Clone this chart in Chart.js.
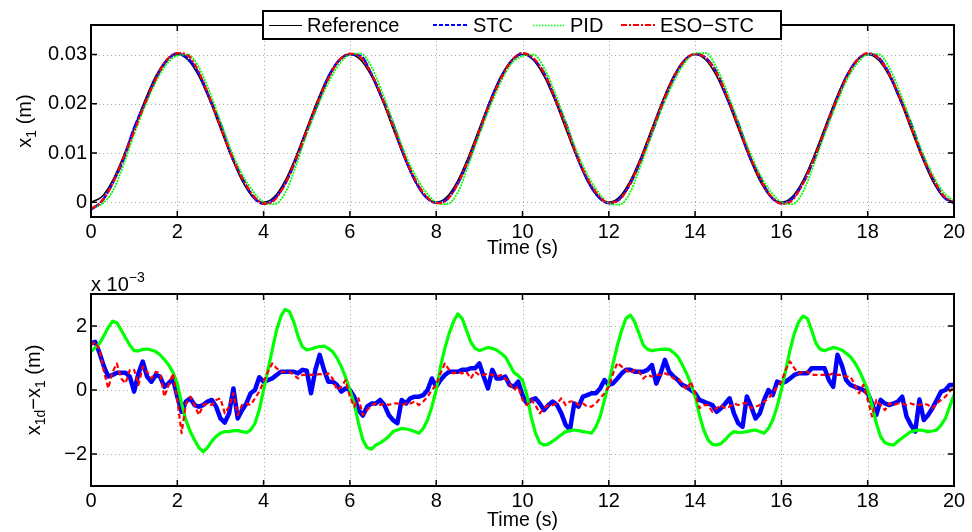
<!DOCTYPE html>
<html>
<head>
<meta charset="utf-8">
<title>x1 tracking</title>
<script src="https://cdn.jsdelivr.net/npm/chart.js@4.4.1/dist/chart.umd.min.js"></script>
<style>
  html, body { margin: 0; padding: 0; background: #fff; }
  #wrap { position: relative; width: 972px; height: 532px; }
  canvas { position: absolute; left: 0; }
</style>
</head>
<body>
<div id="wrap">
  <canvas id="posChart" width="972" height="262" style="top:0"></canvas>
  <canvas id="errChart" width="972" height="270" style="top:262px"></canvas>
</div>
<script>
// ---- data -------------------------------------------------------------

const xTicks = [0, 2, 4, 6, 8, 10, 12, 14, 16, 18, 20];
const xTickLabels = ['0', '2', '4', '6', '8', '10', '12', '14', '16', '18', '20'];
const posTicks = [0, 0.01, 0.02, 0.03];
const posTickLabels = ['0', '0.01', '0.02', '0.03'];
const errTicks = [-2, 0, 2];
const errTickLabels = ['\u22122', '0', '2'];

// position plot, sampled every 0.25 s (m)
const tPos = [
  0, 0.25, 0.5, 0.75, 1, 1.25, 1.5, 1.75,
  2, 2.25, 2.5, 2.75, 3, 3.25, 3.5, 3.75,
  4, 4.25, 4.5, 4.75, 5, 5.25, 5.5, 5.75,
  6, 6.25, 6.5, 6.75, 7, 7.25, 7.5, 7.75,
  8, 8.25, 8.5, 8.75, 9, 9.25, 9.5, 9.75,
  10, 10.25, 10.5, 10.75, 11, 11.25, 11.5, 11.75,
  12, 12.25, 12.5, 12.75, 13, 13.25, 13.5, 13.75,
  14, 14.25, 14.5, 14.75, 15, 15.25, 15.5, 15.75,
  16, 16.25, 16.5, 16.75, 17, 17.25, 17.5, 17.75,
  18, 18.25, 18.5, 18.75, 19, 19.25, 19.5, 19.75,
  20
];
const posRef = [
  0.0000, 0.0011, 0.0044, 0.0093, 0.0150, 0.0207, 0.0256, 0.0289,
  0.0300, 0.0289, 0.0256, 0.0207, 0.0150, 0.0093, 0.0044, 0.0011,
  0.0000, 0.0011, 0.0044, 0.0093, 0.0150, 0.0207, 0.0256, 0.0289,
  0.0300, 0.0289, 0.0256, 0.0207, 0.0150, 0.0093, 0.0044, 0.0011,
  0.0000, 0.0011, 0.0044, 0.0093, 0.0150, 0.0207, 0.0256, 0.0289,
  0.0300, 0.0289, 0.0256, 0.0207, 0.0150, 0.0093, 0.0044, 0.0011,
  0.0000, 0.0011, 0.0044, 0.0093, 0.0150, 0.0207, 0.0256, 0.0289,
  0.0300, 0.0289, 0.0256, 0.0207, 0.0150, 0.0093, 0.0044, 0.0011,
  0.0000, 0.0011, 0.0044, 0.0093, 0.0150, 0.0207, 0.0256, 0.0289,
  0.0300, 0.0289, 0.0256, 0.0207, 0.0150, 0.0093, 0.0044, 0.0011,
  0.0000
];
const posStc = [
  -0.0015, 0.0002, 0.0039, 0.0087, 0.0151, 0.0201, 0.0251, 0.0287,
  0.0302, 0.0292, 0.0261, 0.0211, 0.0159, 0.0096, 0.0050, 0.0012,
  -0.0003, 0.0007, 0.0038, 0.0087, 0.0144, 0.0199, 0.0254, 0.0288,
  0.0300, 0.0297, 0.0260, 0.0211, 0.0159, 0.0096, 0.0046, 0.0012,
  -0.0001, 0.0006, 0.0038, 0.0086, 0.0142, 0.0204, 0.0253, 0.0287,
  0.0302, 0.0291, 0.0262, 0.0212, 0.0161, 0.0097, 0.0046, 0.0012,
  -0.0002, 0.0007, 0.0038, 0.0087, 0.0142, 0.0200, 0.0252, 0.0287,
  0.0301, 0.0293, 0.0263, 0.0211, 0.0160, 0.0096, 0.0051, 0.0012,
  -0.0002, 0.0007, 0.0039, 0.0086, 0.0143, 0.0201, 0.0253, 0.0288,
  0.0301, 0.0294, 0.0261, 0.0210, 0.0161, 0.0099, 0.0050, 0.0012,
  -0.0002
];
const posPid = [
  -0.0012, -0.0004, 0.0022, 0.0075, 0.0138, 0.0195, 0.0244, 0.0280,
  0.0298, 0.0300, 0.0274, 0.0224, 0.0164, 0.0105, 0.0057, 0.0023,
  0.0000, -0.0004, 0.0019, 0.0074, 0.0138, 0.0194, 0.0243, 0.0280,
  0.0300, 0.0302, 0.0275, 0.0223, 0.0163, 0.0105, 0.0057, 0.0022,
  0.0000, -0.0004, 0.0020, 0.0076, 0.0138, 0.0194, 0.0245, 0.0282,
  0.0297, 0.0300, 0.0273, 0.0223, 0.0163, 0.0105, 0.0057, 0.0021,
  -0.0002, -0.0005, 0.0021, 0.0077, 0.0138, 0.0195, 0.0244, 0.0282,
  0.0302, 0.0303, 0.0273, 0.0222, 0.0163, 0.0106, 0.0057, 0.0022,
  0.0000, -0.0004, 0.0021, 0.0076, 0.0138, 0.0194, 0.0245, 0.0281,
  0.0300, 0.0301, 0.0273, 0.0223, 0.0163, 0.0105, 0.0057, 0.0021,
  0.0002
];
const posEso = [
  -0.0014, 0.0002, 0.0038, 0.0090, 0.0144, 0.0201, 0.0250, 0.0289,
  0.0303, 0.0298, 0.0264, 0.0212, 0.0153, 0.0096, 0.0049, 0.0015,
  -0.0003, 0.0004, 0.0038, 0.0088, 0.0145, 0.0203, 0.0251, 0.0288,
  0.0302, 0.0294, 0.0261, 0.0212, 0.0154, 0.0097, 0.0048, 0.0014,
  -0.0002, 0.0005, 0.0038, 0.0088, 0.0145, 0.0202, 0.0251, 0.0288,
  0.0303, 0.0293, 0.0262, 0.0212, 0.0155, 0.0097, 0.0049, 0.0015,
  -0.0001, 0.0005, 0.0039, 0.0088, 0.0146, 0.0202, 0.0253, 0.0288,
  0.0301, 0.0293, 0.0262, 0.0213, 0.0155, 0.0098, 0.0049, 0.0013,
  -0.0003, 0.0004, 0.0038, 0.0088, 0.0145, 0.0202, 0.0252, 0.0288,
  0.0303, 0.0293, 0.0260, 0.0212, 0.0154, 0.0097, 0.0050, 0.0014,
  -0.0001
];

// tracking error, sampled every 0.1 s (x 10^-3 m), one row per second
const tErr = [
  0.0, 0.1, 0.2, 0.3, 0.4, 0.5, 0.6, 0.7, 0.8, 0.9,
  1.0, 1.1, 1.2, 1.3, 1.4, 1.5, 1.6, 1.7, 1.8, 1.9,
  2.0, 2.1, 2.2, 2.3, 2.4, 2.5, 2.6, 2.7, 2.8, 2.9,
  3.0, 3.1, 3.2, 3.3, 3.4, 3.5, 3.6, 3.7, 3.8, 3.9,
  4.0, 4.1, 4.2, 4.3, 4.4, 4.5, 4.6, 4.7, 4.8, 4.9,
  5.0, 5.1, 5.2, 5.3, 5.4, 5.5, 5.6, 5.7, 5.8, 5.9,
  6.0, 6.1, 6.2, 6.3, 6.4, 6.5, 6.6, 6.7, 6.8, 6.9,
  7.0, 7.1, 7.2, 7.3, 7.4, 7.5, 7.6, 7.7, 7.8, 7.9,
  8.0, 8.1, 8.2, 8.3, 8.4, 8.5, 8.6, 8.7, 8.8, 8.9,
  9.0, 9.1, 9.2, 9.3, 9.4, 9.5, 9.6, 9.7, 9.8, 9.9,
  10.0, 10.1, 10.2, 10.3, 10.4, 10.5, 10.6, 10.7, 10.8, 10.9,
  11.0, 11.1, 11.2, 11.3, 11.4, 11.5, 11.6, 11.7, 11.8, 11.9,
  12.0, 12.1, 12.2, 12.3, 12.4, 12.5, 12.6, 12.7, 12.8, 12.9,
  13.0, 13.1, 13.2, 13.3, 13.4, 13.5, 13.6, 13.7, 13.8, 13.9,
  14.0, 14.1, 14.2, 14.3, 14.4, 14.5, 14.6, 14.7, 14.8, 14.9,
  15.0, 15.1, 15.2, 15.3, 15.4, 15.5, 15.6, 15.7, 15.8, 15.9,
  16.0, 16.1, 16.2, 16.3, 16.4, 16.5, 16.6, 16.7, 16.8, 16.9,
  17.0, 17.1, 17.2, 17.3, 17.4, 17.5, 17.6, 17.7, 17.8, 17.9,
  18.0, 18.1, 18.2, 18.3, 18.4, 18.5, 18.6, 18.7, 18.8, 18.9,
  19.0, 19.1, 19.2, 19.3, 19.4, 19.5, 19.6, 19.7, 19.8, 19.9,
  20.0
];
const errStc = [
  1.46, 1.50, 1.15, 0.73, 0.42, 0.47, 0.54, 0.54, 0.54, 0.42,
  -0.05, 0.52, 0.89, 0.42, 0.26, 0.47, 0.42, 0.10, 0.21, 0.36,
  -0.21, -0.68, -0.36, -0.26, -0.47, -0.52, -0.47, -0.36, -0.31, -0.52,
  -0.89, -1.02, -0.73, 0.05, -0.89, -0.63, -0.42, -0.10, 0.00, 0.40,
  0.26, 0.31, 0.36, 0.47, 0.57, 0.57, 0.57, 0.57, 0.52, 0.63,
  0.60, -0.10, 0.63, 1.10, 0.63, 0.26, 0.26, 0.16, -0.05, 0.05,
  0.00, -0.21, -0.63, -0.80, -0.52, -0.42, -0.42, -0.31, -0.47, -0.78,
  -0.94, -1.04, -0.31, -0.42, -0.26, -0.21, -0.21, -0.16, 0.00, 0.36,
  0.10, 0.31, 0.47, 0.57, 0.57, 0.57, 0.63, 0.63, 0.68, 0.68,
  0.83, 0.42, 0.05, 0.63, 0.36, 0.36, 0.42, 0.16, 0.10, 0.26,
  -0.16, -0.42, -0.31, -0.26, -0.42, -0.63, -0.47, -0.36, -0.47, -0.73,
  -1.09, -1.25, -0.42, -0.52, -0.21, -0.16, -0.10, -0.10, 0.05, 0.31,
  0.16, 0.21, 0.36, 0.52, 0.63, 0.63, 0.57, 0.57, 0.57, 0.63,
  0.78, 0.20, 0.52, 0.94, 0.57, 0.42, 0.31, 0.16, 0.10, 0.00,
  -0.10, -0.31, -0.36, -0.42, -0.47, -0.68, -0.57, -0.42, -0.26, -0.73,
  -1.04, -1.15, -0.20, -0.52, -0.89, -0.73, -0.31, 0.00, -0.16, 0.26,
  0.21, 0.26, 0.36, 0.47, 0.52, 0.52, 0.52, 0.68, 0.68, 0.68,
  0.68, 0.31, 0.10, 1.10, 0.78, 0.31, 0.16, 0.10, 0.05, 0.00,
  -0.10, -0.42, -0.78, -0.31, -0.42, -0.47, -0.42, -0.36, -0.21, -0.83,
  -1.09, -1.30, -0.30, -0.94, -0.78, -0.57, -0.31, -0.05, 0.00, 0.16,
  0.16
];
const errPid = [
  1.20, 1.33, 1.46, 1.70, 1.95, 2.15, 2.10, 1.87, 1.63, 1.40,
  1.23, 1.22, 1.27, 1.28, 1.25, 1.20, 1.10, 0.95, 0.78, 0.55,
  0.20, -0.42, -0.94, -1.30, -1.56, -1.80, -1.93, -1.80, -1.60, -1.45,
  -1.35, -1.30, -1.30, -1.27, -1.27, -1.30, -1.33, -1.25, -1.04, -0.62,
  0.00, 0.62, 1.25, 1.87, 2.30, 2.52, 2.45, 2.13, 1.67, 1.35,
  1.25, 1.28, 1.33, 1.36, 1.37, 1.30, 1.20, 1.00, 0.73, 0.40,
  0.00, -0.42, -1.04, -1.56, -1.80, -1.85, -1.72, -1.65, -1.56, -1.45,
  -1.30, -1.25, -1.20, -1.22, -1.25, -1.30, -1.35, -1.20, -0.94, -0.52,
  0.00, 0.73, 1.30, 1.77, 2.13, 2.38, 2.24, 1.87, 1.50, 1.30,
  1.23, 1.28, 1.33, 1.30, 1.25, 1.15, 1.04, 0.80, 0.55, 0.45,
  0.30, -0.15, -0.83, -1.35, -1.65, -1.72, -1.69, -1.60, -1.50, -1.40,
  -1.30, -1.27, -1.25, -1.27, -1.30, -1.32, -1.35, -1.15, -0.83, -0.31,
  0.21, 0.83, 1.40, 1.87, 2.24, 2.34, 2.13, 1.77, 1.40, 1.27,
  1.23, 1.25, 1.27, 1.28, 1.27, 1.17, 1.04, 0.80, 0.52, 0.20,
  -0.20, -0.78, -1.25, -1.56, -1.70, -1.72, -1.67, -1.55, -1.40, -1.30,
  -1.33, -1.32, -1.30, -1.27, -1.25, -1.30, -1.35, -1.20, -0.94, -0.52,
  0.00, 0.62, 1.25, 1.77, 2.13, 2.31, 2.24, 1.87, 1.46, 1.27,
  1.23, 1.28, 1.33, 1.30, 1.25, 1.15, 1.04, 0.85, 0.62, 0.32,
  0.00, -0.47, -1.04, -1.46, -1.65, -1.70, -1.72, -1.60, -1.50, -1.40,
  -1.30, -1.27, -1.25, -1.27, -1.30, -1.28, -1.25, -1.10, -0.89, -0.52,
  -0.15
];
const errEso = [
  1.40, 1.50, 1.25, 0.57, 0.05, 0.57, 0.83, 0.36, 0.21, 0.63,
  0.63, 0.16, 0.73, 0.57, 0.36, 0.57, 0.52, -0.21, 0.16, 0.52,
  -0.31, -1.35, -0.42, -0.21, -0.47, -0.78, -0.47, -0.42, -0.47, -0.31,
  -0.26, -0.73, -0.52, -0.10, -0.78, -0.47, -0.42, -0.47, -0.26, -0.05,
  0.26, 0.57, 0.83, 0.68, 0.57, 0.57, 0.57, 0.47, 0.36, 0.47,
  0.47, 0.47, 0.47, 0.50, 0.47, 0.52, 0.36, 0.00, 0.10, 0.31,
  -0.21, -0.52, -0.26, -0.78, -0.63, -0.47, -0.42, -0.47, -0.42, -0.47,
  -0.42, -0.42, -0.47, -0.42, -0.42, -0.36, -0.47, -0.36, -0.21, 0.00,
  0.16, 0.52, 0.83, 0.63, 0.52, 0.57, 0.52, 0.57, 0.36, 0.57,
  0.47, 0.47, 0.52, 0.47, 0.42, 0.47, 0.36, 0.21, 0.00, 0.10,
  -0.31, -0.47, -0.31, -0.47, -0.73, -0.57, -0.47, -0.47, -0.42, -0.26,
  -0.47, -0.36, -0.36, -0.47, -0.42, -0.52, -0.52, -0.42, -0.26, -0.10,
  0.10, 0.52, 0.85, 0.73, 0.63, 0.52, 0.63, 0.57, 0.36, 0.47,
  0.42, 0.47, 0.47, 0.52, 0.47, 0.36, 0.36, 0.21, 0.00, 0.26,
  -0.10, -0.57, -0.47, -0.47, -0.68, -0.57, -0.47, -0.57, -0.52, -0.42,
  -0.47, -0.42, -0.42, -0.57, -0.52, -0.47, -0.36, -0.26, -0.10, 0.10,
  0.26, 0.63, 0.89, 0.68, 0.52, 0.57, 0.57, 0.47, 0.47, 0.47,
  0.47, 0.47, 0.52, 0.47, 0.47, 0.42, 0.42, 0.16, -0.10, 0.16,
  -0.31, -0.83, -0.31, -0.47, -0.63, -0.42, -0.47, -0.42, -0.42, -0.47,
  -0.42, -0.47, -0.47, -0.42, -0.47, -0.57, -0.42, -0.31, -0.21, -0.05,
  0.10
];

// ---- drawing ----------------------------------------------------------

const FONT = '"Liberation Sans", Arial, Helvetica, sans-serif';
Chart.defaults.font.family = FONT;
Chart.defaults.font.size = 20;
Chart.defaults.color = '#000';

const BLUE = '#0000ff', GREEN = '#00ff00', RED = '#ff0000';

function pts(t, v) {
  return t.map((tt, i) => ({ x: tt, y: v[i] }));
}

// text made of normal / subscript / superscript runs, baseline at (0,0)
function drawRuns(ctx, runs, x0) {
  let x = x0;
  runs.forEach(r => {
    const size = r.sub || r.sup ? 14 : 20;
    ctx.font = size + 'px ' + FONT;
    const dy = r.sub ? 5 : (r.sup ? -9 : 0);
    ctx.fillText(r.text, x, dy);
    x += ctx.measureText(r.text).width;
  });
  return x - x0;
}
function runsWidth(ctx, runs) {
  let w = 0;
  runs.forEach(r => {
    ctx.font = (r.sub || r.sup ? 14 : 20) + 'px ' + FONT;
    w += ctx.measureText(r.text).width;
  });
  return w;
}

// boxed axes: dotted grid, frame with inward ticks, rotated y label
const boxAxes = {
  id: 'boxAxes',
  beforeDatasetsDraw(chart) {
    const { ctx, chartArea: a, scales: { x, y } } = chart;
    ctx.save();
    ctx.strokeStyle = '#a8a8a8';
    ctx.lineWidth = 1;
    ctx.setLineDash([1, 3]);
    ctx.beginPath();
    x.ticks.forEach(t => {
      const px = Math.round(x.getPixelForValue(t.value)) + 0.5;
      if (px <= a.left + 2 || px >= a.right - 2) return;
      ctx.moveTo(px, a.top);
      ctx.lineTo(px, a.bottom);
    });
    y.ticks.forEach(t => {
      const py = Math.round(y.getPixelForValue(t.value)) + 0.5;
      if (py <= a.top + 2 || py >= a.bottom - 2) return;
      ctx.moveTo(a.left, py);
      ctx.lineTo(a.right, py);
    });
    ctx.stroke();
    ctx.restore();
  },
  afterDatasetsDraw(chart, args, opts) {
    const { ctx, chartArea: a, scales: { x, y } } = chart;
    const len = 6;
    ctx.save();
    ctx.strokeStyle = '#000';
    ctx.lineWidth = 1.5;
    ctx.beginPath();
    x.ticks.forEach(t => {
      const px = x.getPixelForValue(t.value);
      ctx.moveTo(px, a.bottom); ctx.lineTo(px, a.bottom - len);
      ctx.moveTo(px, a.top); ctx.lineTo(px, a.top + len);
    });
    y.ticks.forEach(t => {
      const py = y.getPixelForValue(t.value);
      ctx.moveTo(a.left, py); ctx.lineTo(a.left + len, py);
      ctx.moveTo(a.right, py); ctx.lineTo(a.right - len, py);
    });
    ctx.stroke();
    ctx.lineWidth = 2;
    ctx.strokeRect(a.left, a.top, a.right - a.left, a.bottom - a.top);

    // y label, rotated
    ctx.fillStyle = '#000';
    ctx.textBaseline = 'alphabetic';
    ctx.textAlign = 'left';
    ctx.translate(opts.labelX, (a.top + a.bottom) / 2);
    ctx.rotate(-Math.PI / 2);
    const w = runsWidth(ctx, opts.label);
    drawRuns(ctx, opts.label, -w / 2);
    ctx.restore();

    if (opts.exponent) {
      ctx.save();
      ctx.fillStyle = '#000';
      ctx.textBaseline = 'alphabetic';
      ctx.translate(a.left, a.top - 3);
      drawRuns(ctx, opts.exponent, 0);
      ctx.restore();
    }
  }
};

// boxed legend with line samples, sitting across the top edge
const lineLegend = {
  id: 'lineLegend',
  afterDraw(chart, args, opts) {
    if (!opts.items) return;
    const ctx = chart.ctx;
    const b = opts.box;
    ctx.save();
    ctx.fillStyle = '#fff';
    ctx.fillRect(b.x, b.y, b.w, b.h);
    ctx.strokeStyle = '#000';
    ctx.lineWidth = 2;
    ctx.strokeRect(b.x, b.y, b.w, b.h);
    const cy = b.y + b.h / 2;
    opts.items.forEach(it => {
      const ds = chart.data.datasets[it.ds];
      const ly = it.width % 2 ? cy + 0.5 : cy;
      ctx.strokeStyle = ds.borderColor;
      ctx.lineWidth = it.width;
      ctx.setLineDash(it.dash);
      ctx.beginPath();
      ctx.moveTo(it.x0, ly);
      ctx.lineTo(it.x1, ly);
      ctx.stroke();
      ctx.setLineDash([]);
      ctx.fillStyle = '#000';
      ctx.font = '20px ' + FONT;
      ctx.textBaseline = 'middle';
      ctx.textAlign = 'left';
      ctx.fillText(ds.label, it.tx, cy + 1);
    });
    ctx.restore();
  }
};

function scalesFor(yMin, yMax, yTicks, yLabels, xHeight, titlePad) {
  return {
    x: {
      type: 'linear', min: 0, max: 20,
      afterBuildTicks: s => { s.ticks = xTicks.map(v => ({ value: v })); },
      afterFit: s => { s.height = xHeight; },
      ticks: { padding: 3, autoSkip: false, maxRotation: 0,
               callback: (v, i) => xTickLabels[i] },
      grid: { display: false, drawTicks: false },
      border: { display: false },
      title: { display: true, text: 'Time (s)', color: '#000',
               font: { size: 19.5 }, padding: { top: 0, bottom: titlePad } }
    },
    y: {
      type: 'linear', min: yMin, max: yMax,
      afterBuildTicks: s => { s.ticks = yTicks.map(v => ({ value: v })); },
      afterFit: s => { s.width = 91; },
      ticks: { padding: 4, autoSkip: false, callback: (v, i) => yLabels[i] },
      grid: { display: false, drawTicks: false },
      border: { display: false }
    }
  };
}

const lineBase = { pointRadius: 0, pointHoverRadius: 0, fill: false,
                   borderJoinStyle: 'round' };

new Chart(document.getElementById('posChart'), {
  type: 'line',
  data: {
    datasets: [
      { ...lineBase, label: 'Reference', data: pts(tPos, posRef),
        borderColor: '#000', borderWidth: 1.5, cubicInterpolationMode: 'monotone', order: 3 },
      { ...lineBase, label: 'STC', data: pts(tPos, posStc),
        borderColor: BLUE, borderWidth: 2.6, borderDash: [10, 1.5], cubicInterpolationMode: 'monotone', order: 2 },
      { ...lineBase, label: 'PID', data: pts(tPos, posPid),
        borderColor: GREEN, borderWidth: 1.8, borderDash: [2, 1], cubicInterpolationMode: 'monotone', order: 1 },
      { ...lineBase, label: 'ESO\u2212STC', data: pts(tPos, posEso),
        borderColor: RED, borderWidth: 2.2, borderDash: [6, 2, 2, 2], cubicInterpolationMode: 'monotone', order: 0 }
    ]
  },
  options: {
    responsive: false,
    animation: false,
    events: [],
    layout: { padding: { left: 0, right: 18, top: 25, bottom: 0 } },
    scales: scalesFor(-0.003, 0.036, posTicks, posTickLabels, 45, 1.3),
    plugins: {
      legend: { display: false },
      tooltip: { enabled: false },
      boxAxes: { labelX: 31, label: [{ text: 'x' }, { text: '1', sub: true }, { text: ' (m)' }] },
      lineLegend: {
        box: { x: 263, y: 11, w: 518, h: 28 },
        items: [
          { ds: 0, x0: 269, x1: 302, tx: 307, width: 1, dash: [] },
          { ds: 1, x0: 433, x1: 468, tx: 473, width: 2, dash: [4, 2] },
          { ds: 2, x0: 533, x1: 564, tx: 570, width: 1.5, dash: [1.5, 1.5] },
          { ds: 3, x0: 621, x1: 656, tx: 660, width: 2, dash: [6, 2, 2, 2] }
        ]
      }
    }
  },
  plugins: [boxAxes, lineLegend]
});

new Chart(document.getElementById('errChart'), {
  type: 'line',
  data: {
    datasets: [
      { ...lineBase, label: 'STC', data: pts(tErr, errStc),
        borderColor: BLUE, borderWidth: 4.5, order: 2 },
      { ...lineBase, label: 'PID', data: pts(tErr, errPid),
        borderColor: GREEN, borderWidth: 3.2, order: 1 },
      { ...lineBase, label: 'ESO\u2212STC', data: pts(tErr, errEso),
        borderColor: RED, borderWidth: 2.2, borderDash: [5, 3], order: 0 }
    ]
  },
  options: {
    responsive: false,
    animation: false,
    events: [],
    layout: { padding: { left: 0, right: 18, top: 32, bottom: 0 } },
    scales: scalesFor(-3, 3, errTicks, errTickLabels, 46, 0),
    plugins: {
      legend: { display: false },
      tooltip: { enabled: false },
      boxAxes: {
        labelX: 40,
        label: [{ text: 'x' }, { text: '1d', sub: true }, { text: '\u2212x' },
                { text: '1', sub: true }, { text: ' (m)' }],
        exponent: [{ text: 'x 10' }, { text: '\u22123', sup: true }]
      }
    }
  },
  plugins: [boxAxes]
});
</script>
</body>
</html>
